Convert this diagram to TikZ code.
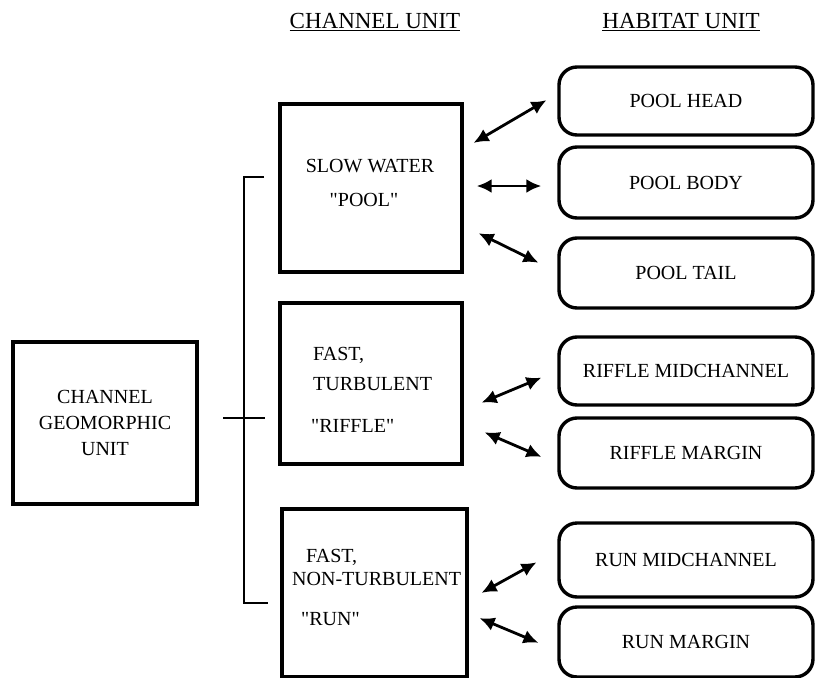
\documentclass[tikz,border=0pt]{standalone}
\usepackage{fontspec}
\setmainfont{Liberation Serif}
\usetikzlibrary{arrows.meta}

\tikzset{
	chanbox/.style={draw, line width=3.4pt, inner sep=0pt},
	habbox/.style={draw, rounded corners=18pt, line width=3.4pt, minimum width=254pt, font=\fontsize{20}{24}\selectfont},
	biarrow/.style={{Latex[length=15pt,width=14pt]}-{Latex[length=15pt,width=14pt]}, line width=2.8pt},
	bracket/.style={line width=2.4pt},
	lbl/.style={anchor=base west, inner sep=0pt, font=\fontsize{20}{24}\selectfont},
	txt/.style={inner sep=0pt, font=\fontsize{20}{24}\selectfont},
}

\begin{document}
\begin{tikzpicture}[x=1pt, y=-1pt]
			\useasboundingbox (0,0) rectangle (815,678);
			\begin{scope}
				% titoli
				\node[txt, font=\fontsize{23}{27}\selectfont] (chanhead) at (375,22) {\underline{CHANNEL UNIT}};
				\node[txt, font=\fontsize{23}{27}\selectfont] (habhead) at (681,22) {\underline{HABITAT UNIT}};

				% unita geomorfica
				\node[chanbox, minimum width=184pt, minimum height=162pt, align=center, font=\fontsize{20}{26}\selectfont] (geo) at (105,423) {CHANNEL\\GEOMORPHIC\\UNIT};

				% unita di canale
				\node[chanbox, minimum width=182pt, minimum height=168pt] (pool) at (371,188) {};
				\node[chanbox, minimum width=182pt, minimum height=161pt] (riffle) at (371,383.5) {};
				\node[chanbox, minimum width=185pt, minimum height=168pt] (run) at (374.5,593) {};

				\node[txt] (poolA) at (370,166) {SLOW WATER};
				\node[txt] (poolB) at (364,200) {\textquotedbl POOL\textquotedbl};
				\node[lbl] (riffleA) at (313,360) {FAST,};
				\node[lbl] (riffleB) at (313,390) {TURBULENT};
				\node[lbl] (riffleC) at (311,432) {\textquotedbl RIFFLE\textquotedbl};
				\node[lbl] (runA) at (306,562) {FAST,};
				\node[lbl] (runB) at (292,585) {NON-TURBULENT};
				\node[lbl] (runC) at (301,625) {\textquotedbl RUN\textquotedbl};

				% parentesi
				\coordinate (brtop) at (264,177);
				\coordinate (brbot) at (268,603);
				\coordinate (brmid) at (223,418);
				\draw[bracket] (brtop) -- ++(-20,0) |- (brbot);
				\draw[bracket] (brmid) -- ++(42,0);

				% unita di habitat
				\node[habbox, minimum height=68pt] (head) at (686,101) {POOL HEAD};
				\node[habbox, minimum height=71pt] (body) at (686,182.5) {POOL BODY};
				\node[habbox, minimum height=70pt] (tail) at (686,273) {POOL TAIL};
				\node[habbox, minimum height=68pt] (rmid) at (686,371) {RIFFLE MIDCHANNEL};
				\node[habbox, minimum height=70pt] (rmar) at (686,453) {RIFFLE MARGIN};
				\node[habbox, minimum height=74pt] (nmid) at (686,560) {RUN MIDCHANNEL};
				\node[habbox, minimum height=70pt] (nmar) at (686,642) {RUN MARGIN};

				% frecce
				\draw[biarrow, shorten <=11.5pt, shorten >=12.6pt] ([yshift=39.3pt]pool.east) -- ([yshift=7.2pt]head.west); % pool - head
				\draw[biarrow, shorten <=13pt, shorten >=16pt] ([yshift=2pt]pool.east) -- ([yshift=-3.5pt]body.west); % pool - body
				\draw[biarrow, shorten <=16.6pt, shorten >=21pt] ([yshift=-37.9pt]pool.east) -- ([yshift=1pt]tail.west); % pool - tail
				\draw[biarrow, shorten <=19.4pt, shorten >=17.2pt] ([yshift=-26.6pt]riffle.east) -- (rmid.west); % riffle - mid
				\draw[biarrow, shorten <=22.8pt, shorten >=17.3pt] ([yshift=-39.8pt]riffle.east) -- ([yshift=-10.7pt]rmar.west); % riffle - margin
				\draw[biarrow, shorten <=14.7pt, shorten >=23.8pt] ([yshift=-7pt]run.east) -- ([yshift=9.2pt]nmid.west); % run - mid
				\draw[biarrow, shorten <=11.8pt, shorten >=20.5pt] ([yshift=-20.6pt]run.east) -- ([yshift=-8.7pt]nmar.west); % run - margin
			\end{scope}
		\end{tikzpicture}
\end{document}
